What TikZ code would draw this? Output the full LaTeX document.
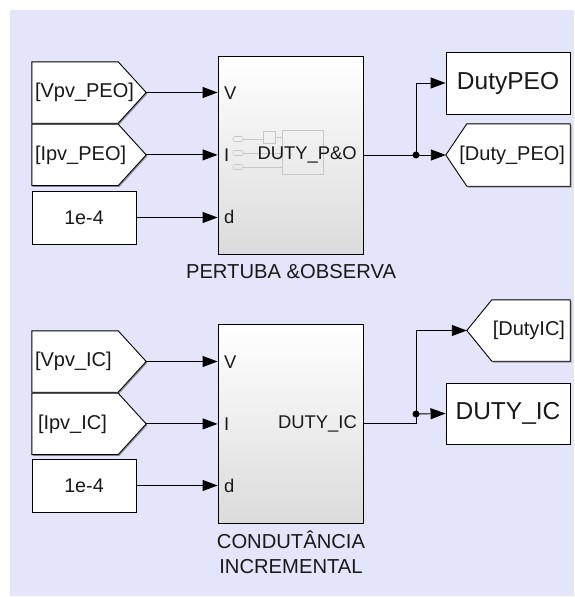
\documentclass[tikz,border=0pt]{standalone}
\usepackage{fontspec}
\setmainfont{Liberation Sans}
\usepackage{tikz}
\usetikzlibrary{arrows.meta,positioning,shadows}
\definecolor{bgcol}{RGB}{228,228,250}
\definecolor{txtcol}{RGB}{25,25,25}
\pgfdeclarelayer{back}
\pgfdeclarelayer{shapes}
\pgfsetlayers{back,shapes,main}

\begin{document}
\begin{tikzpicture}[
  x=1pt, y=-1pt,
  shd/.style={drop shadow={shadow xshift=1.3pt, shadow yshift=-1.3pt, opacity=0.35, fill=black}},
  outline/.style={draw, line width=0.9pt, fill=white, shd},
  tagin/.style={minimum height=61pt, inner ysep=0pt, inner xsep=3pt, text width=108pt, align=left, font=\fontsize{20}{23}\selectfont, text=txtcol},
  tagout/.style={minimum height=62pt, inner ysep=0pt, inner xsep=5pt, text width=114pt, align=right, font=\fontsize{20}{23}\selectfont, text=txtcol},
  cst/.style={outline, minimum width=104pt, minimum height=53pt, font=\fontsize{19.7}{22}\selectfont, text=txtcol},
  outbox/.style={outline, minimum width=124pt, minimum height=62pt, font=\fontsize{24.5}{28}\selectfont, text=txtcol},
  blk/.style={draw, line width=0.9pt, top color=white, bottom color=black!14, shd, minimum width=145pt, minimum height=198pt},
  port/.style={font=\fontsize{18.4}{21}\selectfont, text=txtcol, inner sep=0pt},
  lbl/.style={font=\fontsize{20.2}{25}\selectfont, text=txtcol, align=center},
  icon/.style={draw=black!22, line width=0.6pt},
  arr/.style={-{Triangle[length=15pt, width=11pt]}, line width=0.9pt},
  wire/.style={line width=0.9pt}
]
\useasboundingbox (0,0) rectangle (574,597);
\begin{pgfonlayer}{back}
\fill[bgcol] (10,10) rectangle (574,596);
\end{pgfonlayer}

% P&O
\node[tagin] (vA) at (89,92.5) {[Vpv\_PEO]};
\node[tagin, below=1pt of vA] (iA) {[Ipv\_PEO]};
\node[cst] (cA) at (84,217.5) {1e-4};
\node[blk] (bA) at (290.5,155) {};
\draw[icon, rounded corners=2pt] (233,136.5) rectangle (243,141.5);
\draw[icon, rounded corners=2pt] (233,150.5) rectangle (243,155.5);
\draw[icon, rounded corners=2pt] (233,164.5) rectangle (243,169.5);
\draw[icon] (263,131) rectangle (275,143) (282,130) rectangle (323,174);
\draw[icon] (243,139) -- (263,139) (275,137) -- (282,137) (243,153) -- (282,153) (243,167) -- (282,167);
\node[port, anchor=west] (pvA) at (224,93) {V};
\node[port, anchor=west] (piA) at (224,155) {I};
\node[port, anchor=west] (pdA) at (224,217) {d};
\node[port, anchor=east] (poA) at (357,155) {DUTY\_P\&O};
\node[lbl] (lA) at (291,272) {PERTUBA \&OBSERVA};
\node[outbox] (dA) at (508,83) {DutyPEO};
\node[tagout] (gA) at (508,155) {[Duty\_PEO]};
\coordinate (jA) at (416,155);
\draw[arr] (vA.east) -- (vA.east -| bA.west);
\draw[arr] (iA.east) -- (iA.east -| bA.west);
\draw[arr] (cA.east) -- (cA.east -| bA.west);
\draw[wire] (bA.east) -- (jA);
\draw[arr] (jA) |- (dA.west);
\draw[arr] (jA) -- (gA.west);
\fill (jA) circle (3.5pt);

% IC
\node[tagin] (vB) at (89,361.5) {[Vpv\_IC]};
\node[tagin, below=1pt of vB] (iB) {\hspace*{3pt}[Ipv\_IC]};
\node[cst] (cB) at (84,485.5) {1e-4};
\node[blk, minimum height=199pt] (bB) at (290.5,423.5) {};
\node[port, anchor=west] (pvB) at (224,362) {V};
\node[port, anchor=west] (piB) at (224,424) {I};
\node[port, anchor=west] (pdB) at (224,486) {d};
\node[port, anchor=east] (poB) at (357,424) {DUTY\_IC};
\node[lbl] (lB) at (291,552) {CONDUTÂNCIA\\INCREMENTAL};
\node[tagout, minimum height=61pt, text width=93pt] (gB) at (518.5,330.5) {[DutyIC]};
\node[outbox, minimum height=61pt] (dB) at (508,413.5) {DUTY\_IC};
\coordinate (jB) at (416,414);
\draw[arr] (vB.east) -- (vB.east -| bB.west);
\draw[arr] (iB.east) -- (iB.east -| bB.west);
\draw[arr] (cB.east) -- (cB.east -| bB.west);
\draw[wire] (bB.east) -| (jB);
\draw[arr] (jB) |- (gB.west);
\draw[arr] (jB) -- (dB.west);
\fill (jB) circle (3.5pt);

% tag outlines
\begin{pgfonlayer}{shapes}
\foreach \t in {vA,iA,vB,iB}
  \draw[outline] (\t.north west) -- ([xshift=-28pt]\t.north east) -- (\t.east)
    -- ([xshift=-28pt]\t.south east) -- (\t.south west) -- cycle;
\draw[outline] (gA.west) -- ([xshift=21pt]gA.north west) -- (gA.north east)
  -- (gA.south east) -- ([xshift=21pt]gA.south west) -- cycle;
\draw[outline] (gB.west) -- ([xshift=25pt]gB.north west) -- (gB.north east)
  -- (gB.south east) -- ([xshift=25pt]gB.south west) -- cycle;
\end{pgfonlayer}
\end{tikzpicture}
\end{document}
